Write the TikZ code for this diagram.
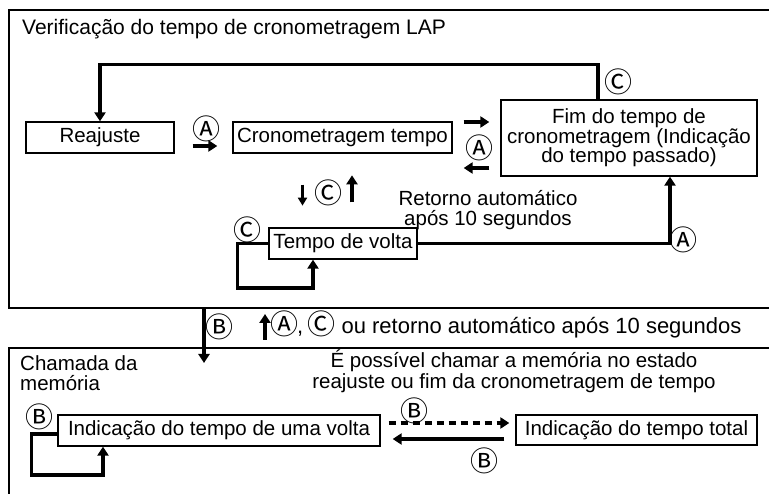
\documentclass[tikz,border=0pt]{standalone}
\usepackage{fontspec}
\setmainfont{Liberation Sans}
\newfontfamily\symfont{Noto Sans CJK JP}
\newcommand{\circsym}[1]{{\symfont\fontsize{28}{28}\selectfont\raisebox{-0.5pt}{#1}}}
\usetikzlibrary{arrows.meta,calc}
\begin{document}
\begin{tikzpicture}[x=1pt,y=-1pt,
  txt/.style={font=\fontsize{20.5}{20.5}\selectfont, inner sep=0pt},
  stbox/.style={draw, line width=1.3pt, inner sep=0pt, font=\fontsize{20.5}{19.5}\selectfont, minimum height=31pt},
  frame/.style={draw, line width=1.5pt},
  conn/.style={line width=3.5pt, -{Triangle[length=9pt,width=11pt]}},
  thinconn/.style={line width=2.5pt, -{Triangle[length=8pt,width=9pt]}},
  lbl/.style={font=\symfont\fontsize{28}{28}\selectfont, inner sep=0pt},
]
\useasboundingbox (0,0) rectangle (769,494);
\clip (0,0) rectangle (769,494);
\fill[white] (0,0) rectangle (769,494);

% frames
\draw[frame] (9,10) rectangle (800,308);
\draw[frame] (9,348) rectangle (800,540);
\coordinate (topframe) at (204,308);

% top section
\node[txt, font=\fontsize{21}{21}\selectfont, anchor=base west] (title) at (22,35) {Verificação do tempo de cronometragem LAP};
\node[stbox, minimum width=148pt] (reajuste) at (100,137.5) {Reajuste};
\node[stbox, minimum width=219pt] (crono) at (342.5,137.5) {Cronometragem tempo};
\node[stbox, minimum width=256pt, minimum height=76pt, align=center] (fim) at (629,138) {Fim do tempo de\\cronometragem (Indicação\\do tempo passado)};
\node[stbox, minimum width=148pt] (volta) at (343,243.5) {Tempo de volta};
\node[txt, align=center] (retorno) at (488,210) {Retorno automático\\após 10 segundos};

\draw[conn] ([xshift=-31pt]fim.north) -- ++(0,-35) -| (reajuste.north);
\node[lbl] (cC1) at (618,82) {Ⓒ};

\draw[conn] ([xshift=18pt,yshift=-8.5pt]reajuste.east) -- ([xshift=-15pt,yshift=-8.5pt]crono.west);
\node[lbl] (cA1) at (206,129) {Ⓐ};

\draw[conn] ([xshift=11pt,yshift=15.5pt]crono.east) -- ([xshift=-11pt,yshift=15.5pt]crono.east -| fim.west);
\draw[conn] ([xshift=-11pt,yshift=-30.5pt]crono.east -| fim.west) -- ([xshift=11pt,yshift=-30.5pt]crono.east);
\node[lbl] (cA2) at (479,148) {Ⓐ};

\draw[thinconn] ([xshift=-40pt,yshift=-31pt]crono.south) -- ++(0,21);
\draw[conn] ([xshift=9pt,yshift=25pt]volta.north) -- ++(0,-27);
\node[lbl] (cC2) at (328,193) {Ⓒ};

\draw[conn] (volta.east) -| ([xshift=41pt]fim.south);
\node[lbl] (cA3) at (683,240) {Ⓐ};

\draw[conn] (volta.west) -- ++(-31,0) -- ++(0,44.5) -| ([xshift=-30pt]volta.south);
\node[lbl] (cC3) at (247,230) {Ⓒ};

% between
\draw[conn] (topframe) -- ++(0,55);
\node[lbl] (cB1) at (219,327) {Ⓑ};
\draw[conn] (265,340) -- (265,314);
\node[txt, font=\fontsize{22}{22}\selectfont, anchor=base west] (note) at (270,334) {\circsym{Ⓐ}\kern-1pt, \kern-2pt\circsym{Ⓒ} ou retorno automático após 10 segundos};

% bottom section
\node[txt, align=left, anchor=west] (chamada) at (20,373) {Chamada da\\memória};
\node[txt, align=center] (possivel) at (514,371) {É possível chamar a memória no estado\\reajuste ou fim da cronometragem de tempo};

\node[stbox, minimum width=322pt] (volta1) at (219,430.5) {Indicação do tempo de uma volta};
\node[stbox, minimum width=241pt, minimum height=30pt] (total) at (636.5,430) {Indicação do tempo total};

\draw[conn, dash pattern=on 7pt off 5pt] ([xshift=8pt,yshift=7.5pt]volta1.east) -- ([xshift=-6pt,yshift=7.5pt]volta1.east -| total.west);
\node[lbl] (cB2) at (414,411) {Ⓑ};
\draw[conn] ([xshift=-11pt,yshift=-8.5pt]volta1.east -| total.west) -- ([xshift=12pt,yshift=-8.5pt]volta1.east);
\node[lbl] (cB3) at (484,461) {Ⓑ};

\draw[conn] ([yshift=-3.5pt]volta1.west) -- ++(-26,0) -- ++(0,41) -| ([xshift=-116pt]volta1.south);
\node[lbl] (cB4) at (39,417) {Ⓑ};
\end{tikzpicture}
\end{document}
